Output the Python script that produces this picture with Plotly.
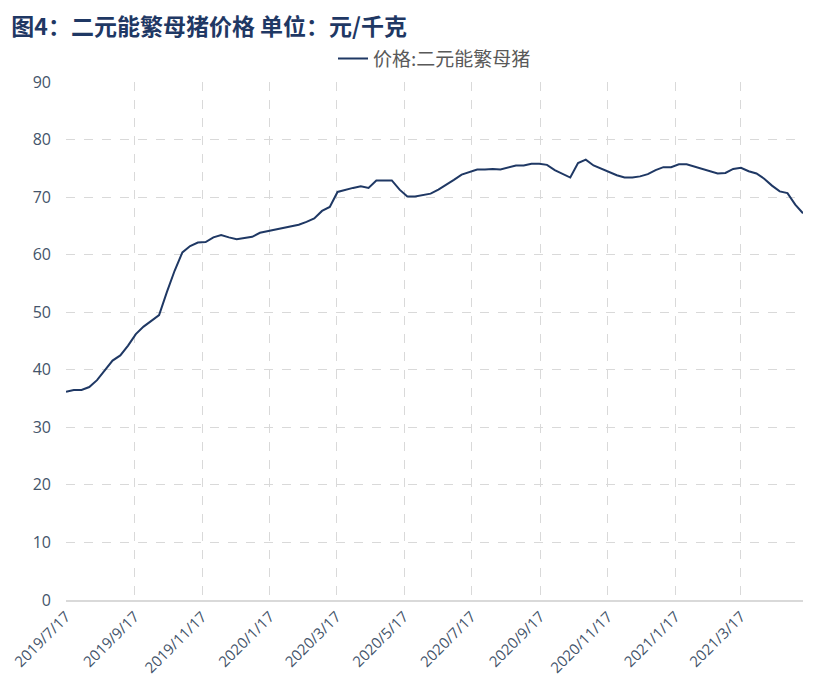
import pandas as pd
import plotly.graph_objects as go

start_date = "2019-07-17"
n_weeks = 96
prices = [
    36.2, 36.5, 36.5, 37.0, 38.2, 40.0, 41.6, 42.5, 44.2, 46.2,
    47.5, 48.5, 49.5, 53.5, 57.2, 60.4, 61.5, 62.1, 62.2, 63.0,
    63.4, 63.0, 62.7, 62.9, 63.1, 63.8, 64.1, 64.4, 64.7, 64.9,
    65.2, 65.7, 66.3, 67.6, 68.3, 70.9, 71.3, 71.6, 71.9, 71.6,
    72.9, 72.9, 72.9, 71.3, 70.1, 70.1, 70.3, 70.6, 71.3, 72.1,
    73.0, 73.9, 74.4, 74.8, 74.8, 74.9, 74.8, 75.2, 75.5, 75.5,
    75.8, 75.8, 75.6, 74.7, 74.0, 73.4, 75.9, 76.5, 75.5, 74.9,
    74.4, 73.8, 73.4, 73.4, 73.6, 74.0, 74.7, 75.2, 75.2, 75.7,
    75.7, 75.3, 75.0, 74.5, 74.1, 74.2, 74.9, 75.1, 74.5, 74.1,
    73.2, 72.0, 71.0, 70.7, 68.7, 67.2,
]
dates = pd.date_range(start_date, periods=n_weeks, freq="7D")

tick_dates = ["2019-07-17", "2019-09-17", "2019-11-17", "2020-01-17", "2020-03-17",
              "2020-05-17", "2020-07-17", "2020-09-17", "2020-11-17", "2021-01-17",
              "2021-03-17"]
tick_labels = ["2019/7/17", "2019/9/17", "2019/11/17", "2020/1/17", "2020/3/17",
               "2020/5/17", "2020/7/17", "2020/9/17", "2020/11/17", "2021/1/17",
               "2021/3/17"]
y_ticks = [0, 10, 20, 30, 40, 50, 60, 70, 80, 90]

series_name = "价格:二元能繁母猪"
title_text = "图4：二元能繁母猪价格 单位：元/千克"

fig = go.Figure()
fig.add_trace(go.Scatter(
    x=dates, y=prices, mode="lines", name=series_name,
    line=dict(color="#1f3864", width=2),
))

cjk = "Noto Sans CJK SC"
fig.update_layout(
    width=834, height=700,
    paper_bgcolor="white", plot_bgcolor="white",
    margin=dict(l=58, r=39, t=74, b=108, autoexpand=False),
    title=dict(text=title_text, x=0.004, xanchor="left",
               xref="container", y=0.985, yanchor="top", yref="container",
               font=dict(family=cjk, size=23, color="#1f3864", weight="bold"),
               pad=dict(t=0, l=0)),
    showlegend=True,
    legend=dict(orientation="h", x=0.5, xanchor="center", y=1.045, yanchor="middle",
                xref="paper", yref="paper",
                font=dict(family=cjk, size=19, color="#595959"),
                bgcolor="rgba(0,0,0,0)"),
    font=dict(family=cjk),
)
fig.update_xaxes(
    type="date",
    range=[dates[0], dates[-1]],
    tickvals=pd.to_datetime(tick_dates), ticktext=tick_labels,
    tickangle=-45,
    tickfont=dict(family="Open Sans, " + cjk, size=15, color="#44546a"),
    showgrid=True, gridcolor="#d9d9d9", griddash="dash", gridwidth=1,
    showline=True, linecolor="#d9d9d9", linewidth=2,
    zeroline=False, ticks="", automargin=False,
)
fig.update_yaxes(
    range=[0, 90], tickvals=y_ticks,
    tickfont=dict(family="Open Sans, " + cjk, size=16, color="#44546a"),
    showgrid=True, gridcolor="#d9d9d9", griddash="dash", gridwidth=1,
    zeroline=False, showline=False, ticks="", ticklabelstandoff=14,
    automargin=False,
)

fig.write_html("out.html")
